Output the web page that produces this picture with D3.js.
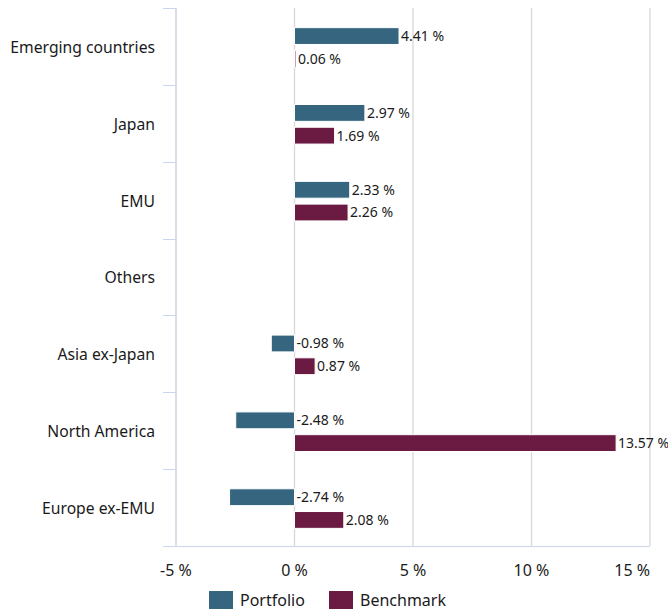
<!DOCTYPE html>
<html>
<head>
<meta charset="utf-8">
<script src="https://cdn.jsdelivr.net/npm/d3@7"></script>
<style>
  body { margin: 0; background: #fff; }
  svg { font-family: "Noto Sans", "Open Sans", sans-serif; }
</style>
</head>
<body>
<svg id="chart" width="668" height="611"></svg>
<script>
// Regions, top to bottom
const categories = ['Emerging countries', 'Japan', 'EMU', 'Others', 'Asia ex-Japan', 'North America', 'Europe ex-EMU'];
// Values in %
const portfolio = [4.41, 2.97, 2.33, null, -0.98, -2.48, -2.74];
const benchmark = [0.06, 1.69, 2.26, null, 0.87, 13.57, 2.08];
const seriesNames = ['Portfolio', 'Benchmark'];
const xTicks = [-5, 0, 5, 10, 15];

const colors = ['#36667f', '#6b1a42'];

const svg = d3.select('#chart');

const margin = { left: 176, right: 18, top: 8, bottom: 65 };
const width = 668 - margin.left - margin.right;
const height = 611 - margin.top - margin.bottom;

const x = d3.scaleLinear().domain([-5, 15]).range([margin.left, margin.left + width]);
const y = d3.scaleBand().domain(categories).range([margin.top, margin.top + height]);
// bars sit a little below the band centre
const inner = d3.scaleBand().domain(seriesNames)
    .range([1, y.bandwidth() + 1]).paddingInner(0.26).paddingOuter(0.82);

const fmt = v => d3.format('.2f')(v).replace('\u2212', '-') + ' %';

// Vertical grid lines
svg.append('g').selectAll('line')
    .data(xTicks)
    .enter().append('line')
    .attr('x1', d => x(d)).attr('x2', d => x(d))
    .attr('y1', margin.top).attr('y2', margin.top + height)
    .attr('stroke', '#d8d8d8').attr('stroke-width', 1.3);

// Category axis (left)
svg.append('line')
    .attr('x1', margin.left).attr('x2', margin.left)
    .attr('y1', margin.top).attr('y2', margin.top + height)
    .attr('stroke', '#ccd6eb');
const boundaries = categories.map(c => y(c)).concat([margin.top + height]);
svg.append('g').selectAll('line')
    .data(boundaries)
    .enter().append('line')
    .attr('x1', margin.left - 13).attr('x2', margin.left)
    .attr('y1', d => Math.round(d) + 0.5).attr('y2', d => Math.round(d) + 0.5)
    .attr('stroke', '#ccd6eb');

// Bottom axis line
svg.append('line')
    .attr('x1', margin.left - 13).attr('x2', margin.left + width)
    .attr('y1', margin.top + height + 0.5).attr('y2', margin.top + height + 0.5)
    .attr('stroke', '#ccd6eb');

// Category labels
svg.append('g').selectAll('text')
    .data(categories)
    .enter().append('text')
    .attr('x', 155)
    .attr('y', d => y(d) + y.bandwidth() / 2 + 1)
    .attr('dy', '0.35em')
    .attr('text-anchor', 'end')
    .attr('font-size', 15.7)
    .attr('fill', '#1a1a1a')
    .text(d => d);

// X tick labels
svg.append('g').selectAll('text')
    .data(xTicks)
    .enter().append('text')
    .attr('x', d => x(d))
    .attr('y', margin.top + height + 30)
    .attr('text-anchor', (d, i) => i === xTicks.length - 1 ? 'end' : 'middle')
    .attr('font-size', 16)
    .attr('fill', '#1a1a1a')
    .text(d => d + ' %');

// Bars
const series = [portfolio, benchmark];
series.forEach((vals, si) => {
    const rows = categories.map((c, i) => ({ cat: c, v: vals[i] })).filter(d => d.v !== null);
    const g = svg.append('g');
    g.selectAll('rect')
        .data(rows)
        .enter().append('rect')
        .attr('x', d => x(Math.min(0, d.v)))
        .attr('y', d => y(d.cat) + inner(seriesNames[si]))
        .attr('width', d => Math.abs(x(d.v) - x(0)))
        .attr('height', inner.bandwidth())
        .attr('fill', colors[si])
        .attr('stroke', '#fff')
        .attr('stroke-width', 1);
    g.selectAll('text')
        .data(rows)
        .enter().append('text')
        .attr('x', d => (d.v > 0 ? x(d.v) : x(0)) + 2)
        .attr('y', d => y(d.cat) + inner(seriesNames[si]) + inner.bandwidth() / 2)
        .attr('dy', '0.35em')
        .attr('font-size', 14)
        .attr('fill', '#1a1a1a')
        .text(d => fmt(d.v));
});

// Legend
const legend = svg.append('g').attr('transform', 'translate(209,591)');
const legendX = [0, 120];
seriesNames.forEach((name, i) => {
    legend.append('rect')
        .attr('x', legendX[i]).attr('y', 0)
        .attr('width', 24).attr('height', 18)
        .attr('fill', colors[i]);
    legend.append('text')
        .attr('x', legendX[i] + 31).attr('y', 9)
        .attr('dy', '0.35em')
        .attr('font-size', 16)
        .attr('fill', '#1a1a1a')
        .text(name);
});
</script>
</body>
</html>
